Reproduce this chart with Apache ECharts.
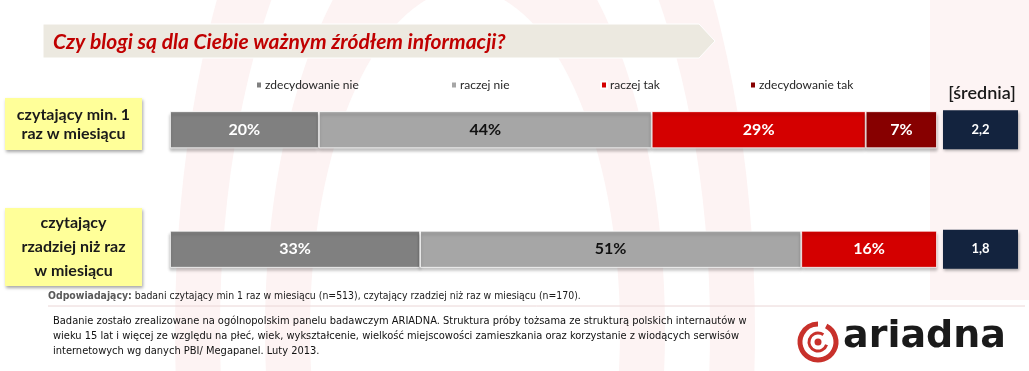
<!DOCTYPE html>
<html>
<head>
<meta charset="utf-8">
<script src="https://cdn.jsdelivr.net/npm/echarts@6/dist/echarts.min.js"></script>
<style>
html,body{margin:0;padding:0;background:#fff;}
#chart{width:1029px;height:371px;}
</style>
</head>
<body>
<div id="chart"></div>
<script>
// ---- data ----
const titleText = 'Czy blogi są dla Ciebie ważnym źródłem informacji?';
const categories = ['czytający min. 1\nraz w miesiącu', 'czytający\nrzadziej niż raz\nw miesiącu'];
const seriesNames = ['zdecydowanie nie', 'raczej nie', 'raczej tak', 'zdecydowanie tak'];
const zdecydowanieNie = [19.4, 32.6];
const raczejNie = [43.4, 49.7];
const raczejTak = [27.9, 17.7];
const zdecydowanieTak = [9.3, null];
const zdecydowanieNieLabels = ['20%', '33%'];
const raczejNieLabels = ['44%', '51%'];
const raczejTakLabels = ['29%', '16%'];
const zdecydowanieTakLabels = ['7%', ''];
const sredniaHeader = '[średnia]';
const srednia = ['2,2', '1,8'];
const footnoteBold = 'Odpowiadający:';
const footnoteText = ' badani czytający min 1 raz w miesiącu (n=513), czytający rzadziej niż raz w miesiącu (n=170).';
const methodLines = [
  'Badanie zostało zrealizowane na ogólnopolskim panelu badawczym ARIADNA. Struktura próby tożsama ze strukturą polskich internautów w',
  'wieku 15 lat i więcej ze względu na płeć, wiek, wykształcenie, wielkość miejscowości zamieszkania oraz korzystanie z wiodących serwisów',
  'internetowych wg danych PBI/ Megapanel. Luty 2013.'
];
const logoText = 'ariadna';

const colors = ['#808080', '#a6a6a6', '#d40000', '#870000'];
const labelColors = ['#ffffff', '#111111', '#ffffff', '#ffffff'];
const values = [zdecydowanieNie, raczejNie, raczejTak, zdecydowanieTak];
const labelTexts = [zdecydowanieNieLabels, raczejNieLabels, raczejTakLabels, zdecydowanieTakLabels];

const chart = echarts.init(document.getElementById('chart'), null, {renderer: 'canvas'});
const FONT = 'Lato, "Open Sans", sans-serif';

const series = seriesNames.map((name, i) => ({
  name: name,
  type: 'bar',
  stack: 'total',
  barWidth: 37,
  data: values[i],
  itemStyle: {
    color: colors[i],
    borderColor: '#ffffff',
    borderWidth: 0.8,
    shadowColor: 'rgba(0,0,0,0.28)',
    shadowBlur: 3,
    shadowOffsetY: 3
  },
  label: {
    show: true,
    position: 'inside',
    fontFamily: FONT,
    fontWeight: 'bold',
    fontSize: 16,
    color: labelColors[i],
    formatter: p => labelTexts[i][p.dataIndex]
  },
  emphasis: {disabled: true}
}));

const legendLefts = [250, 445, 595, 744];
const legends = seriesNames.map((name, i) => ({
  data: [name],
  left: legendLefts[i],
  top: 74,
  icon: 'rect',
  itemWidth: 6,
  itemHeight: 7,
  itemGap: 4,
  textStyle: {fontFamily: FONT, fontSize: 12, color: '#262626', padding: [0, 0, 0, -2]},
  selectedMode: false
}));

// background watermark + decorations
const graphics = [];
const pink = '#fdf3f3';
graphics.push({
  type: 'group', x: 465, y: 330, scaleY: 2.2, z: -10, silent: true,
  children: [
    {type: 'ring', shape: {cx: 0, cy: 0, r: 290, r0: 245}, style: {fill: pink}},
    {type: 'ring', shape: {cx: 0, cy: 0, r: 200, r0: 155}, style: {fill: pink}}
  ]
});
graphics.push({type: 'rect', shape: {x: 930, y: 0, width: 99, height: 300}, style: {fill: '#fdf4f4'}, z: -10, silent: true});

// title banner
graphics.push({
  type: 'polygon', z: 1,
  shape: {points: [[43, 24], [699, 24], [715, 41], [699, 58], [43, 58]]},
  style: {fill: '#ece9e0', stroke: '#ffffff', lineWidth: 1}
});
graphics.push({
  type: 'text', x: 53, y: 42, z: 2,
  style: {text: titleText, font: 'italic bold 21px ' + FONT, fill: '#c00000', verticalAlign: 'middle'}
});

// category boxes
const catBoxes = [{y: 98, h: 52, lh: 19}, {y: 208, h: 78, lh: 24}];
categories.forEach((c, i) => {
  const b = catBoxes[i];
  graphics.push({
    type: 'rect', z: 1,
    shape: {x: 5, y: b.y, width: 137, height: b.h},
    style: {fill: '#ffff99', shadowColor: 'rgba(0,0,0,0.35)', shadowBlur: 3, shadowOffsetX: 1, shadowOffsetY: 2}
  });
  graphics.push({
    type: 'text', z: 2, x: 73.5, y: b.y + b.h / 2,
    style: {text: c, font: 'bold 16px ' + FONT, fill: '#1a1a1a', align: 'center', verticalAlign: 'middle', lineHeight: b.lh}
  });
});

// średnia
graphics.push({
  type: 'text', z: 2, x: 982, y: 93,
  style: {text: sredniaHeader, font: '600 18px ' + FONT, fill: '#1a1a1a', align: 'center', verticalAlign: 'middle'}
});

// footnotes
graphics.push({
  type: 'text', z: 2, left: 48, top: 291,
  style: {
    text: '{b|' + footnoteBold + '}{n|' + footnoteText + '}',
    rich: {
      b: {font: 'bold 10.4px "DejaVu Sans Condensed", sans-serif', fill: '#595959'},
      n: {font: '10.4px "DejaVu Sans Condensed", sans-serif', fill: '#1a1a1a'}
    }
  }
});
graphics.push({type: 'line', z: 1, shape: {x1: 48, y1: 306, x2: 1025, y2: 306}, style: {stroke: '#ead6d6', lineWidth: 1}});
methodLines.forEach((t, i) => {
  graphics.push({
    type: 'text', z: 2, left: 53, top: 316 + i * 15,
    style: {text: t, font: '11px "DejaVu Sans Condensed", sans-serif', fill: '#111111'}
  });
});

// logo
graphics.push({type: 'arc', z: 2, shape: {cx: 818, cy: 342, r: 18, startAngle: -Math.PI * 0.35, endAngle: Math.PI * 1.5, clockwise: true}, style: {stroke: '#c8312b', lineWidth: 5, fill: null}});
graphics.push({type: 'arc', z: 2, shape: {cx: 818, cy: 342, r: 9, startAngle: Math.PI * 0.1, endAngle: Math.PI * 1.7, clockwise: true}, style: {stroke: '#c8312b', lineWidth: 3, fill: null}});
graphics.push({type: 'circle', z: 2, shape: {cx: 818, cy: 342, r: 3.5}, style: {fill: '#c8312b'}});
graphics.push({
  type: 'text', z: 2, left: 843, top: 318,
  style: {text: logoText, font: 'bold 38px "DejaVu Sans", sans-serif', fill: '#1a1a1a'}
});

const option = {
  animation: false,
  backgroundColor: '#ffffff',
  color: colors,
  legend: legends,
  grid: {left: 170, right: 92, top: 70, height: 239, containLabel: false},
  xAxis: {type: 'value', min: 0, max: 100, show: false},
  yAxis: {
    type: 'category', data: categories, inverse: true,
    axisLine: {show: false}, axisTick: {show: false}, axisLabel: {show: false}, splitLine: {show: false}
  },
  series: series,
  graphic: graphics
};
chart.setOption(option);

// średnia boxes positioned on category axis
const extra = [];
srednia.forEach((v, i) => {
  const y = chart.convertToPixel({yAxisIndex: 0}, categories[i]);
  extra.push({
    type: 'rect', z: 1,
    shape: {x: 943, y: y - 19.5, width: 75, height: 39},
    style: {fill: '#13233e', shadowColor: 'rgba(0,0,0,0.35)', shadowBlur: 3, shadowOffsetX: 1, shadowOffsetY: 2}
  });
  extra.push({
    type: 'text', z: 2, x: 980.5, y: y,
    style: {text: v, font: 'bold 13px ' + FONT, fill: '#ffffff', align: 'center', verticalAlign: 'middle'}
  });
});
chart.setOption({graphic: graphics.concat(extra)});
</script>
</body>
</html>
